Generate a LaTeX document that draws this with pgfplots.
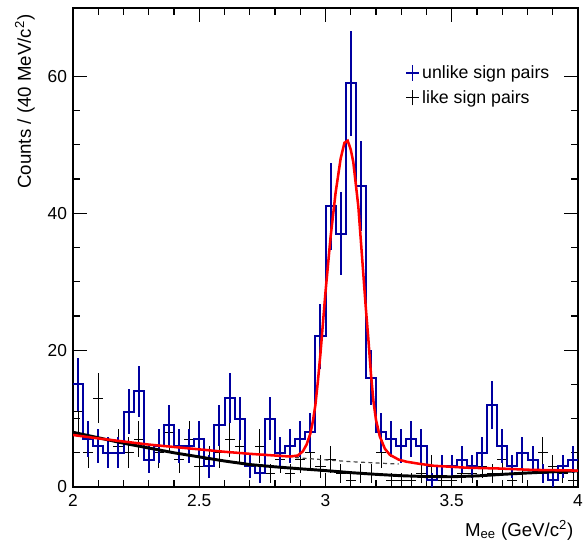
\documentclass[border=0pt]{standalone}
\usepackage{fontspec}
\setmainfont{Liberation Sans}
\usepackage{pgfplots}
\pgfplotsset{compat=1.18}
\usepackage{pgfplotstable}
\definecolor{rootblue}{RGB}{0,0,160}
\definecolor{dashgrey}{RGB}{70,70,70}

% histogram step outline: left bin edge, unlike-sign counts (last row closes the last bin)
\pgfplotstableread{
xl us
2.00 15
2.04 7
2.08 6
2.12 5
2.16 5
2.20 11
2.24 14
2.28 4
2.32 6
2.36 9
2.40 6
2.44 6
2.48 7
2.52 3
2.56 9
2.60 13
2.64 10
2.68 3
2.72 2
2.76 10
2.80 5
2.84 6
2.88 7
2.92 8
2.96 22
3.00 41
3.04 37
3.08 59
3.12 44
3.16 16
3.20 8
3.24 7
3.28 6
3.32 7
3.36 6
3.40 1
3.44 3
3.48 3
3.52 4
3.56 3
3.60 5
3.64 12
3.68 6
3.72 3
3.76 5
3.80 4
3.84 2
3.88 1
3.92 3
3.96 4
4.00 4
}\histtable

% bin centre, unlike counts and error, like counts and error
\pgfplotstableread{
xc us use ls lse
2.02 15 3.873 11 3.317
2.06 7 2.646 5 2.236
2.10 6 2.449 13 3.606
2.14 5 2.236 5 2.236
2.18 5 2.236 6 2.449
2.22 11 3.317 5 2.236
2.26 14 3.742 7 2.646
2.30 4 2 4 2
2.34 6 2.449 5 2.236
2.38 9 3 8 2.828
2.42 6 2.449 4 2
2.46 6 2.449 7 2.646
2.50 7 2.646 3 1.732
2.54 3 1.732 4 2
2.58 9 3 5 2.236
2.62 13 3.606 7 2.646
2.66 10 3.162 6 2.449
2.70 3 1.732 3 1.732
2.74 2 1.414 6 2.449
2.78 10 3.162 2 1.414
2.82 5 2.236 4 2
2.86 6 2.449 2 1.414
2.90 7 2.646 4 2
2.94 8 2.828 5 2.236
2.98 22 4.690 3 1.732
3.02 41 6.403 4 2
3.06 37 6.083 2 1.414
3.10 59 7.681 1 1
3.14 44 6.633 2 1.414
3.18 16 4 2 1.414
3.22 8 2.828 5 2.236
3.26 7 2.646 1 1
3.30 6 2.449 1 1
3.34 7 2.646 1 1
3.38 6 2.449 2 1.414
3.42 1 1 3 1.732
3.46 3 1.732 1 1
3.50 3 1.732 1 1
3.54 4 2 2 1.414
3.58 3 1.732 2 1.414
3.62 5 2.236 3 1.732
3.66 12 3.464 2 1.414
3.70 6 2.449 4 2
3.74 3 1.732 1 1
3.78 5 2.236 2 1.414
3.82 4 2 4 2
3.86 2 1.414 5 2.236
3.90 1 1 3 1.732
3.94 3 1.732 2 1.414
3.98 4 2 1 1
}\bintable

\begin{document}
\begin{tikzpicture}
\begin{axis}[
  name=ax,
  at={(0,0)}, anchor=south west,
  scale only axis,
  width=378.75pt, height=359.25pt,
  xmin=2, xmax=4, ymin=0, ymax=70,
  xtick={2,2.5,3,3.5,4},
  xticklabels={2,2.5,3,3.5,4},
  ytick={0,20,40,60},
  minor x tick num=4,
  minor y tick num=3,
  tick align=inside,
  tick pos=both,
  major tick length=10.5pt,
  minor tick length=5.25pt,
  every tick/.style={black, line width=0.9pt},
  axis line style={line width=1.1pt},
  /pgf/number format/assume math mode=true,
  ticklabel style={font=\fontsize{13}{15}\selectfont},
  xticklabel style={yshift=-2pt},
  yticklabel style={xshift=-1pt},
  legend style={at={(rel axis cs:0.65,0.89)}, anchor=north west,
    draw=none, fill=none, font=\fontsize{13.3}{15}\selectfont,
    nodes={inner xsep=2pt, inner ysep=1.5pt}, row sep=4.5pt},
  legend cell align=left,
]
% like sign pairs
\addplot[draw=none, forget plot,
  error bars/.cd, x dir=both, x fixed=0.02, y dir=both, y explicit,
  error mark=none, error bar style={draw=black, line width=0.6pt, solid}]
  table[x=xc, y=ls, y error=lse] {\bintable};
% unlike sign pairs histogram
\addplot[rootblue, line width=1.5pt, const plot, forget plot] table[x=xl, y=us] {\histtable};
\addplot[draw=none, forget plot,
  error bars/.cd, y dir=both, y explicit,
  error mark=none, error bar style={draw=rootblue, line width=1.5pt, solid}]
  table[x=xc, y=us, y error=use] {\bintable};
% like-sign background fit
\addplot[black, line width=2.2pt, forget plot] coordinates {
(2.00,8.0)(2.10,7.2)(2.20,6.4)(2.30,5.7)(2.40,5.0)(2.50,4.4)(2.60,3.8)(2.70,3.28)
(2.80,2.95)(2.90,2.66)(3.00,2.4)(3.10,2.1)(3.20,1.85)(3.30,1.65)(3.40,1.52)
(3.50,1.5)(3.60,1.62)(3.70,1.85)(3.80,2.05)(3.90,2.22)(4.00,2.35)};
% dashed background under peak
\addplot[dashgrey, line width=0.9pt, dash pattern=on 3pt off 2.5pt, forget plot] coordinates {
(2.88,4.3)(2.97,4.05)(3.10,3.7)(3.29,3.35)};
% total fit
\addplot[red, line width=1.9pt, forget plot] coordinates {
(2.00,7.6)(2.10,7.1)(2.20,6.65)(2.30,6.2)(2.40,5.85)(2.50,5.5)(2.60,5.15)(2.70,4.85)
(2.80,4.6)(2.86,4.45)(2.89,4.6)(2.91,5.2)(2.925,6.2)(2.94,7.8)(2.95,9.6)(2.96,12.0)
(2.97,15.5)(2.98,19.5)(2.99,24)(3.00,28.5)(3.02,36.5)(3.04,43)(3.06,48)(3.075,50.3)
(3.088,50.6)(3.10,49.3)(3.11,47.5)(3.13,41)(3.15,31)(3.16,26)(3.17,21.5)(3.18,16.5)
(3.19,12.5)(3.20,9.8)(3.215,7.4)(3.235,5.6)(3.255,4.7)(3.29,4.0)(3.32,3.7)(3.37,3.4)
(3.43,3.1)(3.50,2.95)(3.56,2.82)(3.69,2.7)(3.82,2.5)(4.00,2.4)};
% legend
\addlegendimage{legend image code/.code={\draw[rootblue, line width=1.4pt] (0.16cm,-0.2cm) -- (0.16cm,0.2cm) (0cm,0cm) -- (0.32cm,0cm);}}
\addlegendentry{unlike sign pairs}
\addlegendimage{legend image code/.code={\draw[black, line width=0.6pt] (0.16cm,-0.2cm) -- (0.16cm,0.2cm) (0cm,0cm) -- (0.32cm,0cm);}}
\addlegendentry{like sign pairs}
\end{axis}
\node[rotate=90, anchor=base east, font=\fontsize{14}{16}\selectfont]
  at ([xshift=-31.5pt, yshift=-1.5pt]ax.north west) {Counts / (40 MeV/c\textsuperscript{2})};
\node[anchor=base east, font=\fontsize{14}{16}\selectfont]
  at ([yshift=-36.75pt]ax.south east) {M\textsubscript{ee} (GeV/c\textsuperscript{2})};
\pgfresetboundingbox
\useasboundingbox ([shift={(-54.75pt,-41.25pt)}]ax.south west) rectangle ([shift={(3.75pt,6pt)}]ax.north east);
\end{tikzpicture}
\end{document}
